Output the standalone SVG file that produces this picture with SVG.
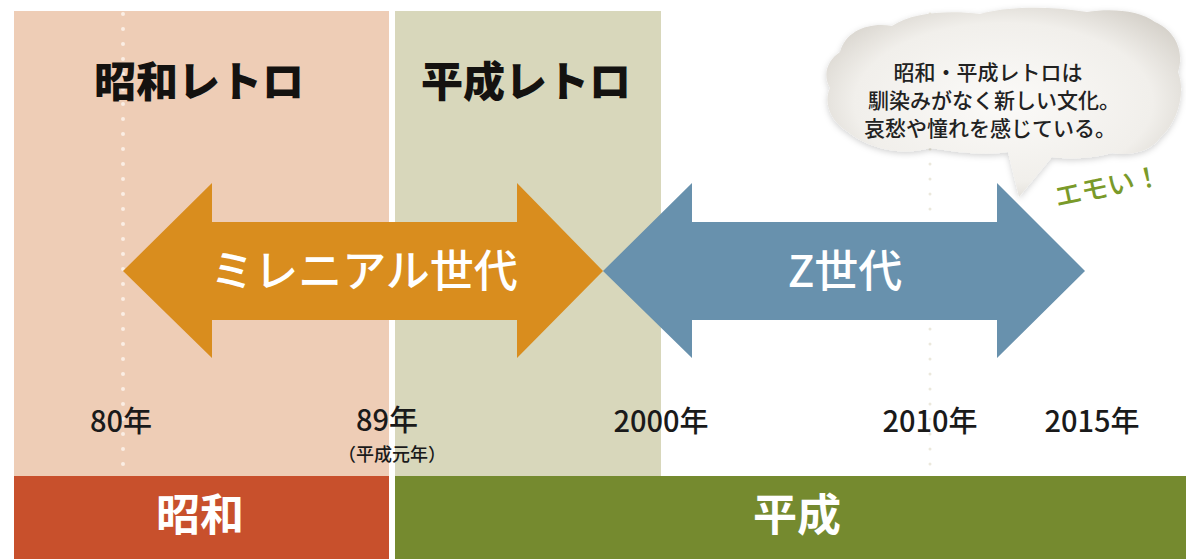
<svg xmlns="http://www.w3.org/2000/svg" width="1186" height="559" viewBox="0 0 1186 559">
<defs>
<style>
.head{font-family:"Noto Sans CJK JP","Noto Sans CJK SC",sans-serif;font-weight:900;font-size:42px;fill:#141210;text-anchor:middle}
.gen{font-family:"Noto Sans CJK JP",sans-serif;font-weight:500;font-size:44px;fill:#ffffff;text-anchor:middle}
.year{font-family:"Noto Sans CJK JP",sans-serif;font-weight:500;font-size:29px;fill:#1a1a1a;text-anchor:middle}
.sub{font-family:"Noto Sans CJK JP",sans-serif;font-weight:500;font-size:18px;fill:#1a1a1a;text-anchor:middle}
.era{font-family:"Noto Sans CJK JP",sans-serif;font-weight:700;font-size:44px;fill:#ffffff;text-anchor:middle}
.bub{font-family:"Noto Sans CJK JP",sans-serif;font-weight:500;font-size:21px;fill:#222;text-anchor:middle}
</style>
<radialGradient id="cloudFill" cx="0.5" cy="0.5" r="0.6">
<stop offset="0" stop-color="#fbfaf8"/>
<stop offset="0.7" stop-color="#f1efeb"/>
<stop offset="1" stop-color="#d6d2cb"/>
</radialGradient>
<filter id="soft" x="-10%" y="-10%" width="120%" height="130%">
<feGaussianBlur in="SourceAlpha" stdDeviation="3"/>
<feOffset dx="0" dy="2" result="b"/>
<feFlood flood-color="#000" flood-opacity="0.18"/>
<feComposite in2="b" operator="in"/>
<feMerge><feMergeNode/><feMergeNode in="SourceGraphic"/></feMerge>
</filter>
</defs>
<rect width="1186" height="559" fill="#ffffff"/>
<g id="panels">
<rect x="14" y="11" width="375" height="465" fill="#EECDB6"/>
<rect x="395" y="11" width="266" height="465" fill="#D8D7BB"/>
</g>
<g id="gridlines">
<line x1="123" y1="14" x2="123" y2="476" stroke="#fbeee4" stroke-width="4" stroke-linecap="round" stroke-dasharray="0 15"/>
<line x1="930" y1="14" x2="930" y2="476" stroke="#ebe8dc" stroke-width="3" stroke-linecap="round" stroke-dasharray="0 15"/>
</g>
<g id="eras">
<rect x="14" y="476" width="375" height="83" fill="#C8502C"/>
<rect x="395" y="476" width="791" height="83" fill="#758A2F"/>
<text class="era" x="200" y="531">昭和</text>
<text class="era" x="797" y="531">平成</text>
</g>
<g id="retro-showa"><text class="head" x="199" y="97">昭和レトロ</text></g>
<g id="retro-heisei"><text class="head" x="526" y="97">平成レトロ</text></g>
<g id="connectors">
<g id="millennial">
<polygon points="123,271 212,183 212,222 517,222 517,183 603,271 517,358 517,320 212,320 212,358" fill="#D98D1E"/>
<text class="gen" x="364" y="287">ミレニアル世代</text>
</g>
<g id="genz">
<polygon points="603,271 692,183 692,222 997,222 997,183 1085,271 997,358 997,320 692,320 692,358" fill="#6891AD"/>
<text class="gen" x="845" y="287">Z世代</text>
</g>
</g>
<g id="years">
<text class="year" x="121" y="432">80年</text>
<text class="year" x="387" y="431">89年</text>
<text class="sub" x="392" y="461">（平成元年）</text>
<text class="year" x="661" y="432">2000年</text>
<text class="year" x="930" y="432">2010年</text>
<text class="year" x="1092" y="432">2015年</text>
</g>
<g id="bubble">
<path filter="url(#soft)" fill="url(#cloudFill)" d="M840,52 C846,30 870,22 892,26 C912,12 950,10 980,14 C1010,6 1050,6 1087,12 C1110,8 1140,10 1155,22 C1178,32 1184,55 1178,72 C1186,92 1178,122 1160,138 C1150,152 1130,156 1112,153 C1095,158 1070,160 1052,157 L1019,197 L1008,152 C985,156 955,152 930,148 C905,156 870,150 848,132 C828,120 824,100 830,88 C822,74 828,60 840,52 Z"/>
<text class="bub" x="988" y="80">昭和・平成レトロは</text>
<text class="bub" x="994" y="108">馴染みがなく新しい文化。</text>
<text class="bub" x="990" y="136">哀愁や憧れを感じている。</text>
</g>
<g id="emoi">
<text x="1057" y="207" transform="rotate(-12 1057 207)" style="font-family:'Noto Sans CJK JP',sans-serif;font-size:27px;font-weight:500;fill:#7A9A2A">エモい！</text>
</g>
</svg>
